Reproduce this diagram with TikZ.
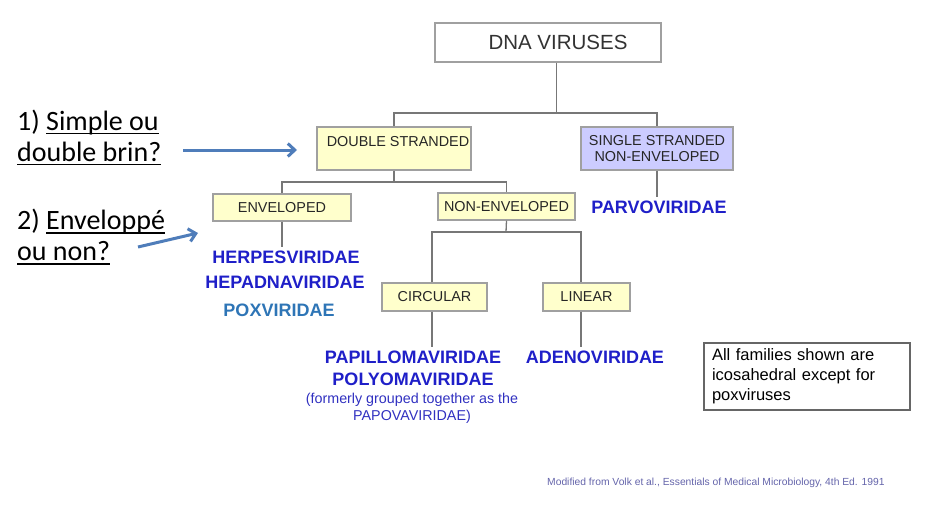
\documentclass[tikz,border=0pt]{standalone}
\usepackage{fontspec}
\setmainfont{Liberation Sans}
\newfontfamily\calfont{Carlito}
\newsavebox{\ulbox}
\newcommand{\myul}[1]{\sbox{\ulbox}{#1}\rlap{\rule[-4pt]{\wd\ulbox}{1.5pt}}\usebox{\ulbox}}
\usetikzlibrary{arrows.meta}
\definecolor{boxyellow}{HTML}{FFFFCC}
\definecolor{boxlav}{HTML}{CCCCFF}
\definecolor{famblue}{HTML}{1F1FC8}
\definecolor{poxblue}{HTML}{2E75B6}
\definecolor{noteblue}{HTML}{3030C0}
\definecolor{credit}{HTML}{6464AA}
\definecolor{arrowblue}{HTML}{4F7DBA}
\definecolor{linegray}{HTML}{777777}
\definecolor{bordergray}{HTML}{A0A0A0}
\begin{document}
\begin{tikzpicture}[x=1pt,y=-1pt,
  box/.style={draw=bordergray, line width=1.2pt, inner sep=0pt, font=\fontsize{14.4}{16}\selectfont, text=black!85},
  ybox/.style={box, fill=boxyellow},
  fam/.style={font=\fontsize{18}{20}\selectfont\bfseries, text=famblue},
  conn/.style={draw=linegray, line width=1.3pt},
  ask/.style={font=\calfont\fontsize{28}{31}\selectfont, align=left, anchor=west, inner sep=0pt},
  qarrow/.style={draw=arrowblue, line width=3pt, -{Straight Barb[length=7pt,width=13pt]}}
]
\useasboundingbox (0,0) rectangle (942,506);

% boxes
\node[box, fill=white, minimum width=226pt, minimum height=39pt, font=\fontsize{20.5}{22}\selectfont, text=black!80] (dna) at (548,42.5) {\hspace{20pt}DNA VIRUSES};
\node[ybox, minimum width=154pt, minimum height=43pt, text height=10pt, text depth=15pt] (ds) at (394,148.5) {\hspace{8pt}DOUBLE STRANDED};
\node[box, fill=boxlav, minimum width=152pt, minimum height=43pt, align=center] (ss) at (657,148.5) {SINGLE STRANDED\\NON-ENVELOPED};
\node[ybox, minimum width=138pt, minimum height=27pt] (env) at (282,207.5) {ENVELOPED};
\node[ybox, minimum width=137pt, minimum height=27pt] (nenv) at (506.5,206.5) {NON-ENVELOPED};
\node[ybox, minimum width=105pt, minimum height=28pt] (circ) at (434.5,297) {CIRCULAR};
\node[ybox, minimum width=87pt, minimum height=28pt] (lin) at (586.5,297) {LINEAR};

% families
\node[fam] (herpes) at (286,257) {HERPESVIRIDAE};
\node[fam] (hepadna) at (285,282) {HEPADNAVIRIDAE};
\node[fam, text=poxblue] (pox) at (279,310) {POXVIRIDAE};
\node[fam] (parvo) at (659,207) {PARVOVIRIDAE};
\node[fam] (papil) at (413,357) {PAPILLOMAVIRIDAE};
\node[fam] (polyo) at (413,379) {POLYOMAVIRIDAE};
\node[fam] (adeno) at (595,357) {ADENOVIRIDAE};
\node[font=\fontsize{14.3}{17}\selectfont, text=noteblue, align=center] (papova) at (412,408.5) {(formerly grouped together as the\\PAPOVAVIRIDAE)};

% note and credit
\node[draw=black!60, line width=1.2pt, minimum width=206pt, minimum height=67pt, text width=190pt, align=left, inner xsep=8pt, font=\fontsize{16.5}{20}\selectfont] (note) at (807,376.5) {All families shown are\\icosahedral except for\\poxviruses};
\node[font=\fontsize{10.3}{12}\selectfont, text=credit, anchor=west, inner sep=0pt] (credit) at (547,483) {Modified from Volk et al., Essentials of Medical Microbiology, 4th Ed. 1991};

% questions
\node[ask] (q1) at (17,137.5) {1) \myul{Simple ou}\\\myul{double brin?}};
\node[ask] (q2) at (17,237) {2) \myul{Enveloppé}\\\myul{ou non?}};
\coordinate (a1s) at (183,150);
\coordinate (a1e) at (297,150);
\coordinate (a2s) at (138,247);
\coordinate (a2e) at (198,233);
\draw[qarrow] (a1s) -- (a1e);
\draw[qarrow] (a2s) -- (a2e);

% connectors
\coordinate (j1) at (556.5,113);
\draw[conn] (dna.south -| j1) -- (j1);
\draw[conn] (ds.north) |- (ss.north |- j1) -- (ss.north);
\coordinate (j2) at (394,182);
\draw[conn] (ds.south) -- (j2);
\draw[conn] (env.north) |- (nenv.north |- j2) -- (nenv.north);
\draw[conn] (env.south) -- (env.south |- herpes.north);
\draw[conn] (ss.south) -- (ss.south |- parvo.north);
\coordinate (j3) at (506,232);
\coordinate (b3l) at (432,232);
\coordinate (b3r) at (581,232);
\draw[conn] (nenv.south) -- (j3);
\draw[conn] (b3l |- circ.north) |- (b3r) -- (b3r |- lin.north);
\draw[conn] (b3l |- circ.south) -- (b3l |- papil.north);
\draw[conn] (b3r |- lin.south) -- (b3r |- adeno.north);
\end{tikzpicture}
\end{document}
